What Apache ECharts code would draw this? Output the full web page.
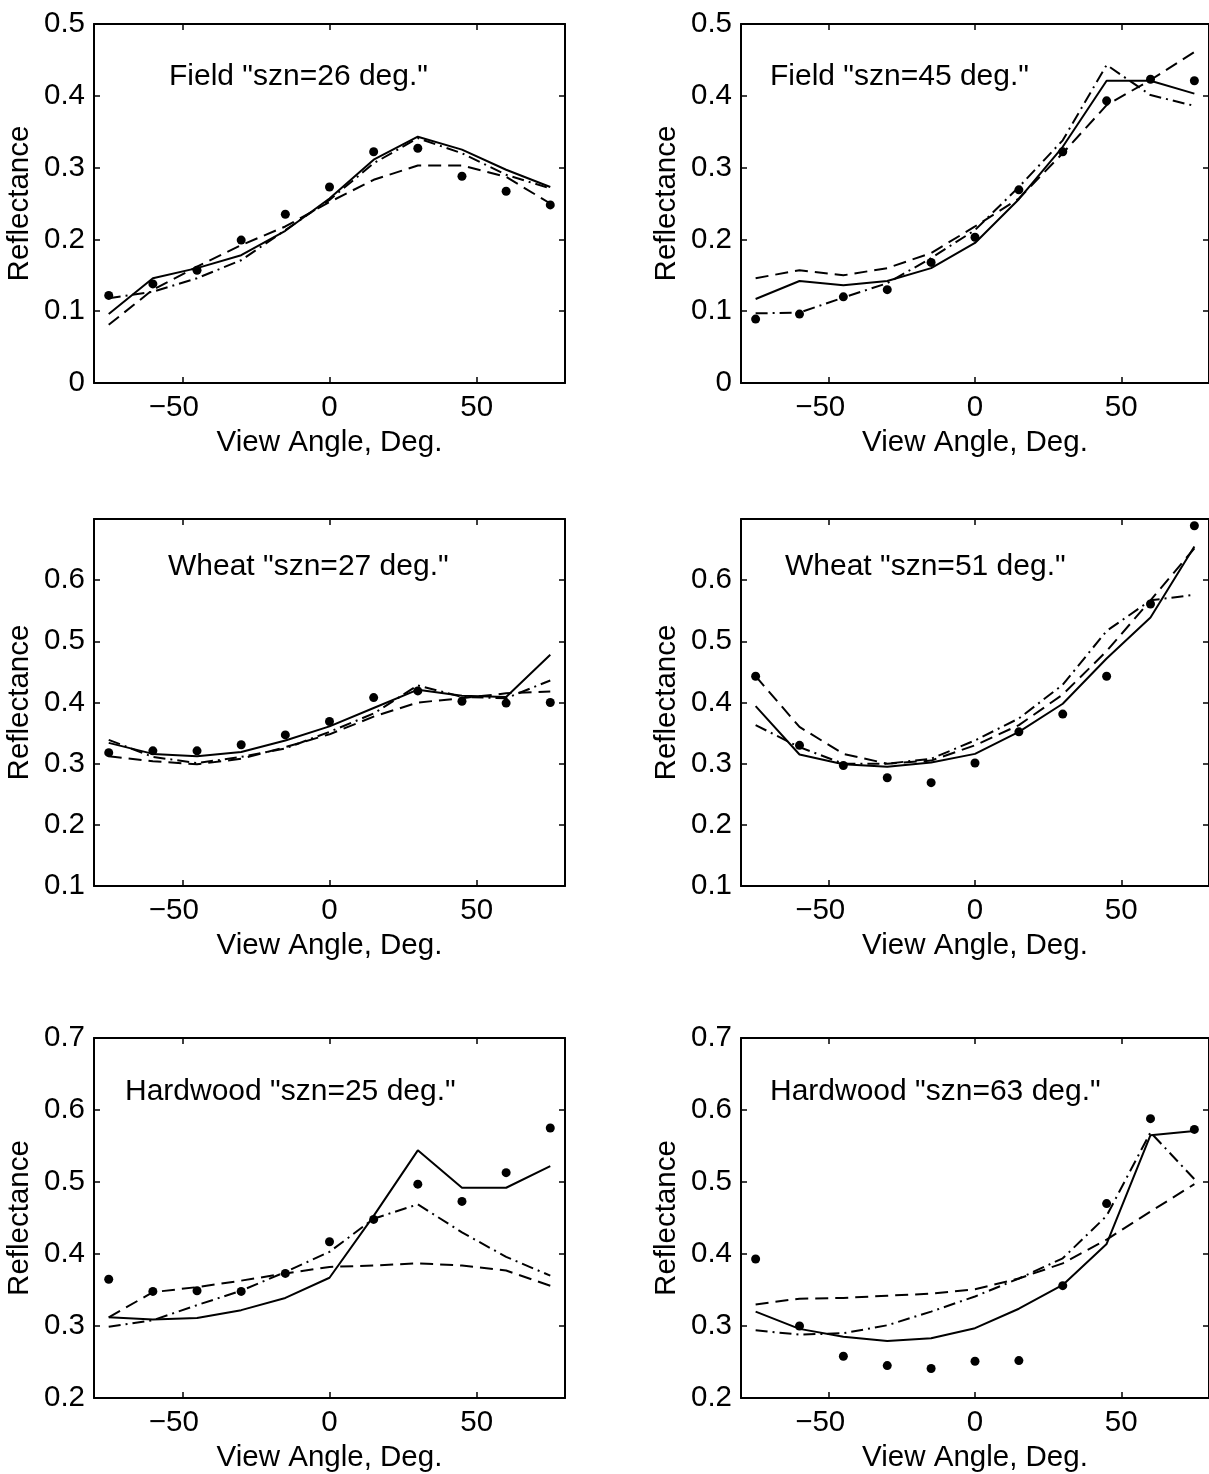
<!DOCTYPE html>
<html>
<head>
<meta charset="utf-8">
<script src="https://cdn.jsdelivr.net/npm/echarts@6/dist/echarts.min.js"></script>
<style>
html,body{margin:0;padding:0;background:#fff;}
#c{width:1209px;height:1474px;}
</style>
</head>
<body>
<div id="c"></div>
<script>
// ---- data ----
const angles = [-75, -60, -45, -30, -15, 0, 15, 30, 45, 60, 75];
const xTicks = [-50, 0, 50];

const titles = ['Field "szn=26 deg."', 'Field "szn=45 deg."', 'Wheat "szn=27 deg."', 'Wheat "szn=51 deg."', 'Hardwood "szn=25 deg."', 'Hardwood "szn=63 deg."'];
const yMins = [0, 0, 0.1, 0.1, 0.2, 0.2];
const yMaxs = [0.5, 0.5, 0.7, 0.7, 0.7, 0.7];
const yHiddenLabels = [[], [], [0.7], [0.7], [], []];

// Field szn=26
const field26Obs     = [0.122, 0.138, 0.157, 0.199, 0.235, 0.273, 0.322, 0.327, 0.288, 0.267, 0.248];
const field26Solid   = [0.096, 0.146, 0.160, 0.178, 0.212, 0.257, 0.311, 0.343, 0.325, 0.297, 0.273];
const field26Dashed  = [0.081, 0.130, 0.162, 0.192, 0.218, 0.252, 0.283, 0.303, 0.303, 0.287, 0.250];
const field26DashDot = [0.118, 0.127, 0.146, 0.171, 0.213, 0.255, 0.306, 0.341, 0.320, 0.290, 0.271];
// Field szn=45
const field45Obs     = [0.089, 0.096, 0.120, 0.130, 0.168, 0.203, 0.269, 0.322, 0.393, 0.423, 0.421];
const field45Solid   = [0.117, 0.142, 0.136, 0.142, 0.160, 0.195, 0.256, 0.329, 0.421, 0.421, 0.403];
const field45Dashed  = [0.146, 0.157, 0.150, 0.160, 0.181, 0.218, 0.257, 0.320, 0.387, 0.422, 0.461];
const field45DashDot = [0.097, 0.098, 0.119, 0.139, 0.174, 0.213, 0.273, 0.338, 0.443, 0.401, 0.386];
// Wheat szn=27
const wheat27Obs     = [0.318, 0.321, 0.321, 0.331, 0.347, 0.369, 0.408, 0.419, 0.402, 0.399, 0.400];
const wheat27Solid   = [0.334, 0.316, 0.312, 0.319, 0.338, 0.361, 0.391, 0.421, 0.411, 0.409, 0.478];
const wheat27Dashed  = [0.312, 0.304, 0.299, 0.308, 0.327, 0.348, 0.377, 0.400, 0.407, 0.415, 0.418];
const wheat27DashDot = [0.339, 0.311, 0.301, 0.311, 0.325, 0.352, 0.382, 0.428, 0.409, 0.407, 0.436];
// Wheat szn=51
const wheat51Obs     = [0.443, 0.330, 0.297, 0.277, 0.269, 0.301, 0.352, 0.381, 0.443, 0.561, 0.689];
const wheat51Solid   = [0.394, 0.315, 0.299, 0.295, 0.302, 0.316, 0.352, 0.398, 0.472, 0.539, 0.655];
const wheat51Dashed  = [0.443, 0.360, 0.316, 0.300, 0.305, 0.330, 0.363, 0.413, 0.484, 0.567, 0.652];
const wheat51DashDot = [0.363, 0.327, 0.300, 0.300, 0.308, 0.338, 0.374, 0.429, 0.517, 0.567, 0.576];
// Hardwood szn=25
const hard25Obs      = [0.365, 0.348, 0.349, 0.348, 0.373, 0.417, 0.448, 0.497, 0.473, 0.513, 0.575];
const hard25Solid    = [0.312, 0.309, 0.311, 0.322, 0.339, 0.367, 0.453, 0.544, 0.492, 0.492, 0.522];
const hard25Dashed   = [0.312, 0.347, 0.354, 0.363, 0.373, 0.382, 0.384, 0.387, 0.384, 0.377, 0.356];
const hard25DashDot  = [0.299, 0.308, 0.329, 0.349, 0.375, 0.403, 0.449, 0.469, 0.430, 0.396, 0.370];
// Hardwood szn=63
const hard63Obs      = [0.393, 0.300, 0.258, 0.245, 0.241, 0.251, 0.252, 0.356, 0.470, 0.588, 0.573];
const hard63Solid    = [0.320, 0.296, 0.285, 0.279, 0.283, 0.297, 0.324, 0.357, 0.414, 0.565, 0.571];
const hard63Dashed   = [0.330, 0.338, 0.339, 0.342, 0.345, 0.351, 0.366, 0.387, 0.420, 0.459, 0.497];
const hard63DashDot  = [0.294, 0.288, 0.290, 0.301, 0.320, 0.341, 0.366, 0.394, 0.453, 0.569, 0.504];

const obs      = [field26Obs, field45Obs, wheat27Obs, wheat51Obs, hard25Obs, hard63Obs];
const solid    = [field26Solid, field45Solid, wheat27Solid, wheat51Solid, hard25Solid, hard63Solid];
const dashed   = [field26Dashed, field45Dashed, wheat27Dashed, wheat51Dashed, hard25Dashed, hard63Dashed];
const dashDot  = [field26DashDot, field45DashDot, wheat27DashDot, wheat51DashDot, hard25DashDot, hard63DashDot];

// ---- layout ----
const colLeft = [94, 741];
const colWidth = [471, 468];
const rowTop = [24, 519, 1038];
const rowHeight = [359, 367, 360];
const titlePos = [[164, 57], [765, 57], [163, 547], [780, 547], [120, 1072], [765, 1072]];

const FONT = 'Liberation Sans, Arial, Helvetica, sans-serif';
const FS = 29.5;

const chart = echarts.init(document.getElementById('c'), null, {renderer: 'canvas'});
const grid = [], xAxis = [], yAxis = [], series = [], title = [];

const pair = arr => angles.map((a, i) => [a, arr[i]]);
const xFmt = v => (v < 0 ? '{n|\u2212' + Math.abs(v) + '}' : '{p|' + v + '}');

for (let p = 0; p < 6; p++) {
  const r = Math.floor(p / 2), c = p % 2;
  grid.push({left: colLeft[c], top: rowTop[r], width: colWidth[c], height: rowHeight[r], show: false, containLabel: false});
  const hidden = yHiddenLabels[p];
  const tickStyle = {show: true, inside: true, length: 6, lineStyle: {color: '#000', width: 1.5}};
  const lineStyle = {show: true, onZero: false, lineStyle: {color: '#000', width: 2}};
  const labelRich = {
    n: {color: '#000', fontFamily: FONT, fontSize: FS, padding: [0, 17, 0, 0]},
    p: {color: '#000', fontFamily: FONT, fontSize: FS}
  };
  // bottom x
  xAxis.push({
    type: 'value', gridIndex: p, position: 'bottom', min: -80, max: 80,
    axisLine: lineStyle, splitLine: {show: false},
    axisLabel: {
      show: true, margin: 10, color: '#000', fontFamily: FONT, fontSize: FS,
      customValues: xTicks, formatter: xFmt, rich: labelRich
    },
    axisTick: Object.assign({customValues: xTicks}, tickStyle),
    name: 'View Angle, Deg.', nameLocation: 'middle', nameGap: 45,
    nameTextStyle: {color: '#000', fontFamily: FONT, fontSize: FS}
  });
  // top x (ticks only)
  xAxis.push({
    type: 'value', gridIndex: p, position: 'top', min: -80, max: 80,
    axisLine: lineStyle, axisTick: Object.assign({customValues: xTicks}, tickStyle),
    axisLabel: {show: false, customValues: xTicks}, splitLine: {show: false}
  });
  const yFmt = v => {
    const rv = Math.round(v * 10) / 10;
    if (hidden.some(h => Math.abs(h - rv) < 1e-6)) return '';
    return rv === 0 ? '0' : rv.toFixed(1);
  };
  yAxis.push({
    type: 'value', gridIndex: p, position: 'left', min: yMins[p], max: yMaxs[p], interval: 0.1,
    axisLine: lineStyle, axisTick: tickStyle, splitLine: {show: false},
    axisLabel: {show: true, margin: 9, color: '#000', fontFamily: FONT, fontSize: FS, formatter: yFmt, showMinLabel: true, showMaxLabel: true},
    name: 'Reflectance', nameLocation: 'middle', nameGap: 59, nameRotate: 90,
    nameTextStyle: {color: '#000', fontFamily: FONT, fontSize: FS}
  });
  yAxis.push({
    type: 'value', gridIndex: p, position: 'right', min: yMins[p], max: yMaxs[p], interval: 0.1,
    axisLine: lineStyle, axisTick: tickStyle, axisLabel: {show: false}, splitLine: {show: false}
  });
  title.push({
    text: titles[p], left: titlePos[p][0], top: titlePos[p][1],
    textStyle: {color: '#000', fontFamily: FONT, fontSize: FS + 0.5, fontWeight: 'normal'}
  });
  const xi = p * 2, yi = p * 2;
  const lineBase = {type: 'line', xAxisIndex: xi, yAxisIndex: yi, showSymbol: false, symbol: 'none', smooth: false, silent: true, animation: false};
  series.push(Object.assign({}, lineBase, {name: 'solid' + p, data: pair(solid[p]), lineStyle: {color: '#000', width: 2, type: 'solid'}}));
  series.push(Object.assign({}, lineBase, {name: 'dashed' + p, data: pair(dashed[p]), lineStyle: {color: '#000', width: 2, type: [13, 7]}}));
  series.push(Object.assign({}, lineBase, {name: 'dashdot' + p, data: pair(dashDot[p]), lineStyle: {color: '#000', width: 2, type: [12, 5, 2, 5]}}));
  series.push({type: 'scatter', xAxisIndex: xi, yAxisIndex: yi, name: 'obs' + p, data: pair(obs[p]), symbol: 'circle', symbolSize: 9, itemStyle: {color: '#000', opacity: 1}, silent: true, animation: false, z: 3});
}

chart.setOption({
  backgroundColor: '#fff',
  animation: false,
  title: title,
  grid: grid,
  xAxis: xAxis,
  yAxis: yAxis,
  series: series
});
</script>
</body>
</html>
